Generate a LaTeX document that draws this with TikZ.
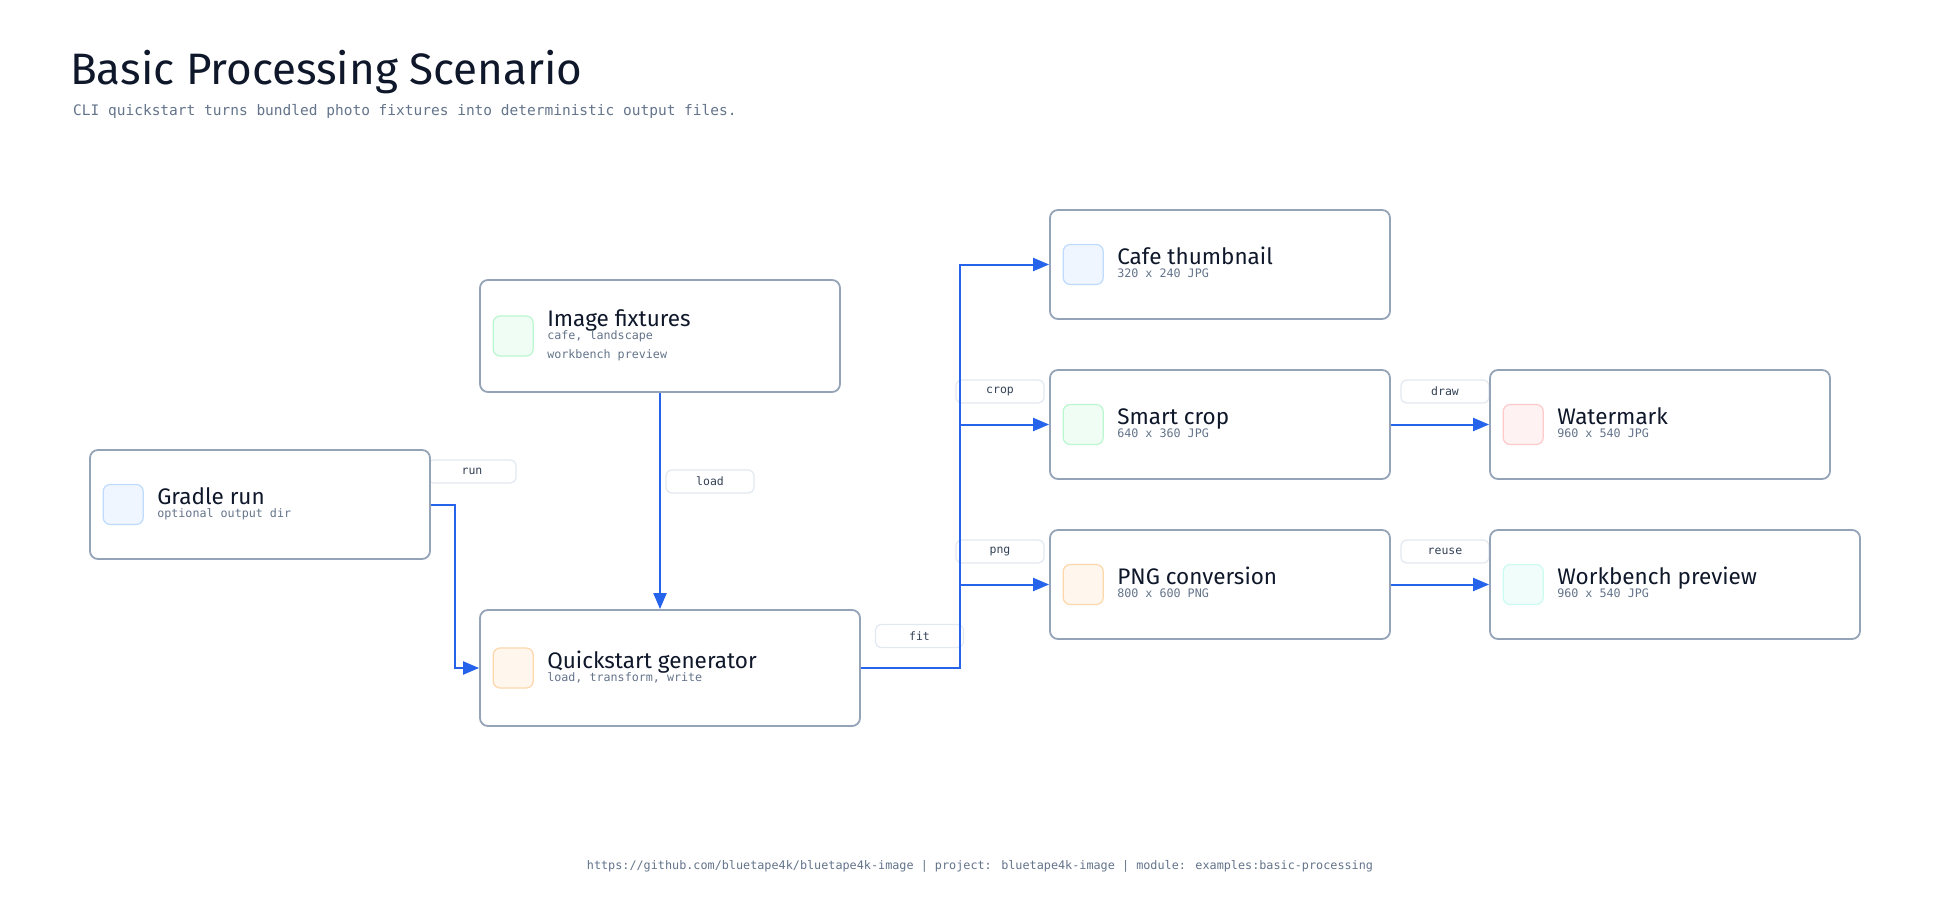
\documentclass[tikz,border=0pt]{standalone}
\usepackage{fontspec}
\setmainfont{Fira Sans}
\newfontfamily\monof{DejaVu Sans Mono}
\usetikzlibrary{arrows.meta,calc}
\definecolor{ink}{HTML}{0F172A}
\definecolor{muted}{HTML}{64748B}
\definecolor{cardline}{HTML}{94A3B8}
\definecolor{flowblue}{HTML}{2563EB}
\definecolor{lblline}{HTML}{E2E8F0}
\definecolor{lbltext}{HTML}{334155}
\definecolor{bluefill}{HTML}{EFF6FF}\definecolor{blueline}{HTML}{BFDBFE}
\definecolor{greenfill}{HTML}{F0FDF4}\definecolor{greenline}{HTML}{BBF7D0}
\definecolor{orangefill}{HTML}{FFF7ED}\definecolor{orangeline}{HTML}{FED7AA}
\definecolor{redfill}{HTML}{FEF2F2}\definecolor{redline}{HTML}{FECACA}
\definecolor{tealfill}{HTML}{F0FDFA}\definecolor{tealline}{HTML}{CCFBF1}
\tikzset{
  card/.style={draw=cardline, line width=1.8pt, rounded corners=8pt, fill=white, inner sep=0pt},
  icon/.style={draw=#1line, fill=#1fill, line width=1.2pt, rounded corners=7pt, minimum size=40pt, inner sep=0pt},
  ttl/.style={font=\fontsize{22.5}{26}\selectfont, text=ink, inner sep=0pt},
  subt/.style={font=\monof\fontsize{11.7}{14}\selectfont, text=muted, inner sep=0pt},
  lbl/.style={draw=lblline, fill=white, line width=1.2pt, rounded corners=6pt, minimum width=88pt, minimum height=23pt, inner sep=0pt, font=\monof\fontsize{11.5}{13}\selectfont, text=lbltext},
  flow/.style={draw=flowblue, line width=2pt, -{Triangle[length=16pt,width=13pt]}},
}
% name, cx, cy, w, h, colour, title, sub, title baseline shift
\newcommand\mkcard[9]{%
  \node[card, minimum width=#4pt, minimum height=#5pt] (#1) at (#2,#3) {};
  \node[icon=#6, anchor=west] (#1-ic) at ([xshift=13.5pt]#1.west) {};
  \node[ttl, anchor=base west] (#1-t) at ([xshift=68pt, yshift=#9pt]#1.west) {#7};
  \node[subt, anchor=base west] (#1-s) at ([yshift=-13pt]#1-t.base west) {#8};
}
\begin{document}
\begin{tikzpicture}[x=1pt, y=-1pt]
\fill[white] (0,0) rectangle (1960,920);
\useasboundingbox (0,0) rectangle (1960,920);

\node[anchor=base west, inner sep=0pt, text=ink, font=\fontsize{44}{52}\selectfont] (title) at (70,85) {Basic Processing Scenario};
\node[anchor=base west, inner sep=0pt, text=muted, font=\monof\fontsize{14.5}{17}\selectfont] (subtitle) at (73,116) {CLI quickstart turns bundled photo fixtures into deterministic output files.};

% edge labels (drawn beneath the connectors)
\node[lbl] (l-run) at (472,471.5) {run};
\node[lbl] (l-load) at (710,481.5) {load};
\node[lbl] (l-fit) at (919.5,636) {fit};
\node[lbl] (l-crop) at (1000,391.5) {crop};
\node[lbl] (l-png) at (1000,551.5) {png};
\node[lbl] (l-draw) at (1445,391.5) {draw};
\node[lbl] (l-reuse) at (1445,551.5) {reuse};

\mkcard{gradle}{260}{504.5}{340}{109}{blue}{Gradle run}{optional output dir}{0}
\mkcard{fix}{660}{336}{360}{112}{green}{Image fixtures}{cafe, landscape}{10}
\node[subt, anchor=base west] (fix-s2) at ([yshift=-19pt]fix-s.base west) {workbench preview};
\mkcard{quick}{670}{668}{380}{116}{orange}{Quickstart generator}{load, transform, write}{0}
\mkcard{cafe}{1220}{264.5}{340}{109}{blue}{Cafe thumbnail}{320 x 240 JPG}{0}
\mkcard{crop}{1220}{424.5}{340}{109}{green}{Smart crop}{640 x 360 JPG}{0}
\mkcard{wm}{1660}{424.5}{340}{109}{red}{Watermark}{960 x 540 JPG}{0}
\mkcard{png}{1220}{584.5}{340}{109}{orange}{PNG conversion}{800 x 600 PNG}{0}
\mkcard{wb}{1675}{584.5}{370}{109}{teal}{Workbench preview}{960 x 540 JPG}{0}

% connectors
\draw[flow] (gradle.east) -- ++(24,0) |- (quick.west);
\draw[flow] (fix.south) -- (fix.south |- quick.north);
\draw[flow] (quick.east) -- ++(99,0) |- (cafe.west);
\draw[flow] (quick.east) -- ++(99,0) |- (crop.west);
\draw[flow] (quick.east) -- ++(99,0) |- (png.west);
\draw[flow] (crop.east) -- (wm.west);
\draw[flow] (png.east) -- (wb.west);

\node[anchor=base, inner sep=0pt, text=muted, font=\monof\fontsize{11.8}{14}\selectfont] (footer) at (980,869) {https://github.com/bluetape4k/bluetape4k-image | project: bluetape4k-image | module: examples:basic-processing};
\end{tikzpicture}
\end{document}
